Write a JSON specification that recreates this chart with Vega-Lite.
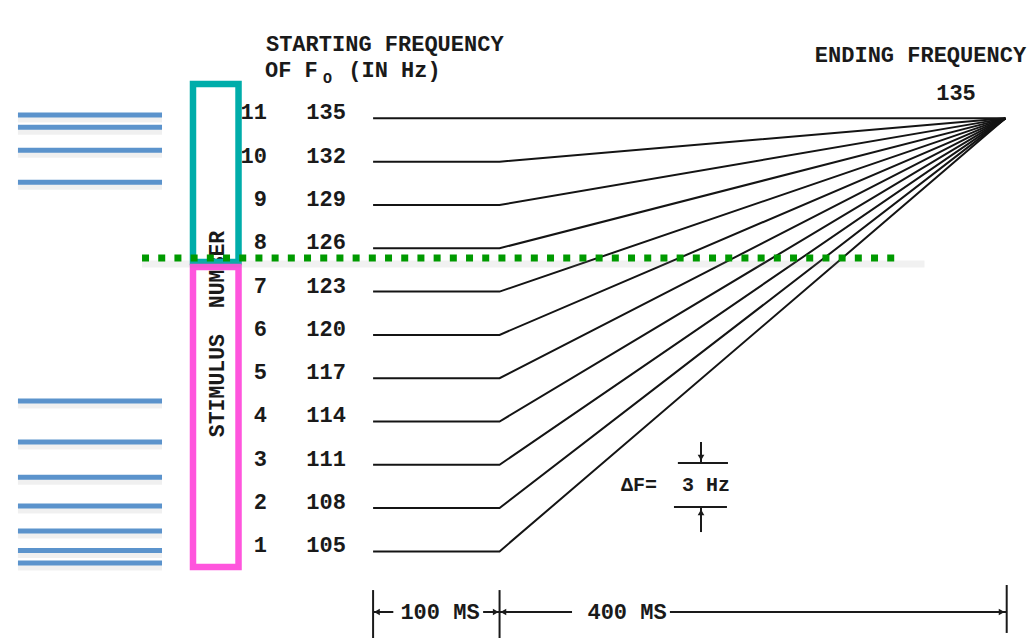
{
  "$schema": "https://vega.github.io/schema/vega-lite/v6.json",
  "width": 1032,
  "height": 638,
  "autosize": {"type": "none"},
  "padding": 0,
  "background": "white",
  "config": {"view": {"stroke": null}},
  "datasets": {
    "contours": [
      {"stim": 1, "t": 0, "hz": 105}, {"stim": 1, "t": 100, "hz": 105}, {"stim": 1, "t": 500, "hz": 135},
      {"stim": 2, "t": 0, "hz": 108}, {"stim": 2, "t": 100, "hz": 108}, {"stim": 2, "t": 500, "hz": 135},
      {"stim": 3, "t": 0, "hz": 111}, {"stim": 3, "t": 100, "hz": 111}, {"stim": 3, "t": 500, "hz": 135},
      {"stim": 4, "t": 0, "hz": 114}, {"stim": 4, "t": 100, "hz": 114}, {"stim": 4, "t": 500, "hz": 135},
      {"stim": 5, "t": 0, "hz": 117}, {"stim": 5, "t": 100, "hz": 117}, {"stim": 5, "t": 500, "hz": 135},
      {"stim": 6, "t": 0, "hz": 120}, {"stim": 6, "t": 100, "hz": 120}, {"stim": 6, "t": 500, "hz": 135},
      {"stim": 7, "t": 0, "hz": 123}, {"stim": 7, "t": 100, "hz": 123}, {"stim": 7, "t": 500, "hz": 135},
      {"stim": 8, "t": 0, "hz": 126}, {"stim": 8, "t": 100, "hz": 126}, {"stim": 8, "t": 500, "hz": 135},
      {"stim": 9, "t": 0, "hz": 129}, {"stim": 9, "t": 100, "hz": 129}, {"stim": 9, "t": 500, "hz": 135},
      {"stim": 10, "t": 0, "hz": 132}, {"stim": 10, "t": 100, "hz": 132}, {"stim": 10, "t": 500, "hz": 135},
      {"stim": 11, "t": 0, "hz": 135}, {"stim": 11, "t": 100, "hz": 135}, {"stim": 11, "t": 500, "hz": 135}
    ],
    "rows": [
      {"stim": 1, "hz": 105}, {"stim": 2, "hz": 108}, {"stim": 3, "hz": 111}, {"stim": 4, "hz": 114},
      {"stim": 5, "hz": 117}, {"stim": 6, "hz": 120}, {"stim": 7, "hz": 123}, {"stim": 8, "hz": 126},
      {"stim": 9, "hz": 129}, {"stim": 10, "hz": 132}, {"stim": 11, "hz": 135}
    ],
    "blue": [
      {"t0": -280.8, "t1": -166.9, "hz": 135.23}, {"t0": -280.8, "t1": -166.9, "hz": 134.38},
      {"t0": -280.8, "t1": -166.9, "hz": 132.79}, {"t0": -280.8, "t1": -166.9, "hz": 130.57},
      {"t0": -280.8, "t1": -166.9, "hz": 115.42}, {"t0": -280.8, "t1": -166.9, "hz": 112.58},
      {"t0": -280.8, "t1": -166.9, "hz": 110.13}, {"t0": -280.8, "t1": -166.9, "hz": 108.14},
      {"t0": -280.8, "t1": -166.9, "hz": 106.41}, {"t0": -280.8, "t1": -166.9, "hz": 105.07},
      {"t0": -280.8, "t1": -166.9, "hz": 104.2}
    ],
    "headers": [
      {"label": "STARTING FREQUENCY", "t": -84.7, "hz": 140.15},
      {"label": "OF F", "t": -85.5, "hz": 138.32},
      {"label": "(IN Hz)", "t": -19.6, "hz": 138.32},
      {"label": "ENDING FREQUENCY", "t": 349.3, "hz": 139.39}
    ],
    "hsegs": [
      {"a": 0, "b": 16, "hz": 100.8}, {"a": 87, "b": 157.3, "hz": 100.8}, {"a": 234.7, "b": 501, "hz": 100.8},
      {"a": 241, "b": 280.6, "hz": 111.12}, {"a": 237.9, "b": 279.8, "hz": 108.07}
    ],
    "vsegs": [
      {"t": 0, "lo": 99, "hi": 102.32}, {"t": 100, "lo": 99, "hi": 102.32}, {"t": 501, "lo": 99.35, "hi": 102.67},
      {"t": 259.3, "lo": 111.12, "hi": 112.58}, {"t": 259.3, "lo": 106.34, "hi": 108.07}
    ],
    "arrows": [
      {"t": 3, "hz": 100.8, "dir": "left"}, {"t": 97, "hz": 100.8, "dir": "right"},
      {"t": 103, "hz": 100.8, "dir": "left"}, {"t": 497, "hz": 100.8, "dir": "right"},
      {"t": 259.3, "hz": 111.5, "dir": "down"}, {"t": 259.3, "hz": 107.7, "dir": "up"}
    ],
    "boxes": [
      {"box": "upper", "t0": -142.4, "t1": -106.4, "lo": 125.05, "hi": 137.38},
      {"box": "lower", "t0": -142.4, "t1": -106.4, "lo": 103.92, "hi": 124.7}
    ],
    "divider": [{"t0": -182.7, "t1": 419, "hz": 125.33}]
  },
  "encoding": {
    "x": {"type": "quantitative", "scale": {"domain": [-295, 521], "nice": false, "zero": false}, "axis": null},
    "y": {"type": "quantitative", "scale": {"domain": [99, 143.2], "nice": false, "zero": false}, "axis": null}
  },
  "layer": [
    {
      "data": {"name": "blue"},
      "mark": {"type": "rule", "color": "#8a8a8a", "opacity": 0.13, "strokeWidth": 7, "yOffset": 4},
      "encoding": {"x": {"field": "t0", "type": "quantitative"}, "x2": {"field": "t1"}, "y": {"field": "hz", "type": "quantitative"}}
    },
    {
      "data": {"name": "blue"},
      "mark": {"type": "rule", "color": "#5B93CC", "strokeWidth": 5},
      "encoding": {"x": {"field": "t0", "type": "quantitative"}, "x2": {"field": "t1"}, "y": {"field": "hz", "type": "quantitative"}}
    },
    {
      "data": {"name": "contours"},
      "mark": {"type": "line", "color": "#141414", "strokeWidth": 2},
      "encoding": {"x": {"field": "t", "type": "quantitative"}, "y": {"field": "hz", "type": "quantitative"}, "detail": {"field": "stim", "type": "nominal"}}
    },
    {
      "data": {"name": "rows"},
      "mark": {"type": "text", "font": "Liberation Mono", "fontWeight": "bold", "fontSize": 22, "align": "right", "baseline": "middle", "dy": -6, "color": "#1a1a1a"},
      "encoding": {"x": {"datum": -83.9}, "y": {"field": "hz", "type": "quantitative"}, "text": {"field": "stim"}}
    },
    {
      "data": {"name": "rows"},
      "mark": {"type": "text", "font": "Liberation Mono", "fontWeight": "bold", "fontSize": 22, "align": "center", "baseline": "middle", "dy": -6, "color": "#1a1a1a"},
      "encoding": {"x": {"datum": -37.2}, "y": {"field": "hz", "type": "quantitative"}, "text": {"field": "hz"}}
    },
    {
      "data": {"name": "headers"},
      "mark": {"type": "text", "font": "Liberation Mono", "fontWeight": "bold", "fontSize": 22, "align": "left", "baseline": "middle", "color": "#1a1a1a"},
      "encoding": {"x": {"field": "t", "type": "quantitative"}, "y": {"field": "hz", "type": "quantitative"}, "text": {"field": "label"}}
    },
    {
      "data": {"values": [{"label": "O", "t": -36.1, "hz": 137.8}]},
      "mark": {"type": "text", "font": "Liberation Mono", "fontWeight": "bold", "fontSize": 15, "align": "center", "baseline": "middle", "color": "#1a1a1a"},
      "encoding": {"x": {"field": "t", "type": "quantitative"}, "y": {"field": "hz", "type": "quantitative"}, "text": {"field": "label"}}
    },
    {
      "data": {"values": [{"label": "135", "t": 460.9, "hz": 136.79}]},
      "mark": {"type": "text", "font": "Liberation Mono", "fontWeight": "bold", "fontSize": 22, "align": "center", "baseline": "middle", "color": "#1a1a1a"},
      "encoding": {"x": {"field": "t", "type": "quantitative"}, "y": {"field": "hz", "type": "quantitative"}, "text": {"field": "label"}}
    },
    {
      "data": {"values": [{"label": "STIMULUS\u00a0\u00a0NUMBER", "t": -122.8, "hz": 120.06}]},
      "mark": {"type": "text", "font": "Liberation Mono", "fontWeight": "bold", "fontSize": 21.5, "align": "center", "baseline": "middle", "angle": 270, "color": "#1a1a1a"},
      "encoding": {"x": {"field": "t", "type": "quantitative"}, "y": {"field": "hz", "type": "quantitative"}, "text": {"field": "label"}}
    },
    {
      "data": {"name": "hsegs"},
      "mark": {"type": "rule", "color": "#1a1a1a", "strokeWidth": 2},
      "encoding": {"x": {"field": "a", "type": "quantitative"}, "x2": {"field": "b"}, "y": {"field": "hz", "type": "quantitative"}}
    },
    {
      "data": {"name": "vsegs"},
      "mark": {"type": "rule", "color": "#1a1a1a", "strokeWidth": 2},
      "encoding": {"x": {"field": "t", "type": "quantitative"}, "y": {"field": "lo", "type": "quantitative"}, "y2": {"field": "hi"}}
    },
    {
      "data": {"name": "arrows"},
      "transform": [{"filter": "datum.dir === 'left'"}],
      "mark": {"type": "point", "shape": "triangle-left", "filled": true, "color": "#1a1a1a", "size": 45, "opacity": 1},
      "encoding": {"x": {"field": "t", "type": "quantitative"}, "y": {"field": "hz", "type": "quantitative"}}
    },
    {
      "data": {"name": "arrows"},
      "transform": [{"filter": "datum.dir === 'right'"}],
      "mark": {"type": "point", "shape": "triangle-right", "filled": true, "color": "#1a1a1a", "size": 45, "opacity": 1},
      "encoding": {"x": {"field": "t", "type": "quantitative"}, "y": {"field": "hz", "type": "quantitative"}}
    },
    {
      "data": {"name": "arrows"},
      "transform": [{"filter": "datum.dir === 'down'"}],
      "mark": {"type": "point", "shape": "triangle-down", "filled": true, "color": "#1a1a1a", "size": 45, "opacity": 1},
      "encoding": {"x": {"field": "t", "type": "quantitative"}, "y": {"field": "hz", "type": "quantitative"}}
    },
    {
      "data": {"name": "arrows"},
      "transform": [{"filter": "datum.dir === 'up'"}],
      "mark": {"type": "point", "shape": "triangle-up", "filled": true, "color": "#1a1a1a", "size": 45, "opacity": 1},
      "encoding": {"x": {"field": "t", "type": "quantitative"}, "y": {"field": "hz", "type": "quantitative"}}
    },
    {
      "data": {"values": [{"label": "100 MS", "t": 52.9, "hz": 100.8}, {"label": "400 MS", "t": 200.8, "hz": 100.8}]},
      "mark": {"type": "text", "font": "Liberation Mono", "fontWeight": "bold", "fontSize": 22, "align": "center", "baseline": "middle", "color": "#1a1a1a"},
      "encoding": {"x": {"field": "t", "type": "quantitative"}, "y": {"field": "hz", "type": "quantitative"}, "text": {"field": "label"}}
    },
    {
      "data": {"values": [{"label": "ΔF=", "t": 196.0, "hz": 109.6}, {"label": "3 Hz", "t": 244.3, "hz": 109.6}]},
      "mark": {"type": "text", "font": "Liberation Mono", "fontWeight": "bold", "fontSize": 20, "align": "left", "baseline": "middle", "color": "#1a1a1a"},
      "encoding": {"x": {"field": "t", "type": "quantitative"}, "y": {"field": "hz", "type": "quantitative"}, "text": {"field": "label"}}
    },
    {
      "data": {"name": "boxes"},
      "mark": {"type": "rect", "filled": false, "strokeWidth": 6.5},
      "encoding": {
        "x": {"field": "t0", "type": "quantitative"}, "x2": {"field": "t1"},
        "y": {"field": "lo", "type": "quantitative"}, "y2": {"field": "hi"},
        "stroke": {"field": "box", "type": "nominal", "scale": {"domain": ["upper", "lower"], "range": ["#00ADAA", "#FF55DD"]}, "legend": null}
      }
    },
    {
      "data": {"name": "divider"},
      "mark": {"type": "rule", "color": "#8a8a8a", "opacity": 0.12, "strokeWidth": 7, "yOffset": 6},
      "encoding": {"x": {"field": "t0", "type": "quantitative"}, "x2": {"datum": 436}, "y": {"field": "hz", "type": "quantitative"}}
    },
    {
      "data": {"name": "divider"},
      "mark": {"type": "rule", "color": "#009A00", "strokeWidth": 7, "strokeDash": [7, 9.2], "strokeCap": "butt"},
      "encoding": {"x": {"field": "t0", "type": "quantitative"}, "x2": {"field": "t1"}, "y": {"field": "hz", "type": "quantitative"}}
    }
  ]
}
